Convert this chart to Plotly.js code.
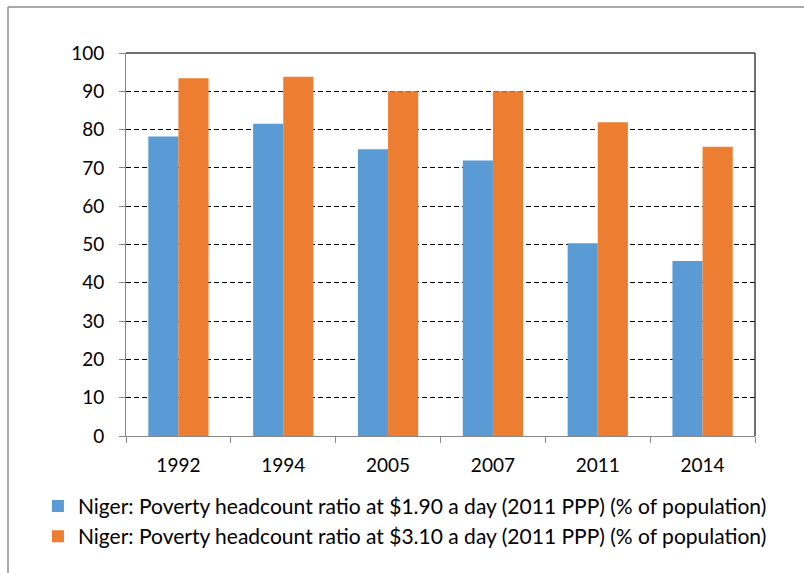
<!DOCTYPE html>
<html>
<head>
<meta charset="utf-8">
<script src="https://cdn.plot.ly/plotly-3.0.1.min.js"></script>
<style>
html, body { margin: 0; padding: 0; background: #fff; }
#chart { width: 804px; height: 573px; }
</style>
</head>
<body>
<div id="chart"></div>
<script>
const years = ['1992', '1994', '2005', '2007', '2011', '2014'];
const poverty190 = [78.2, 81.5, 74.9, 71.9, 50.3, 45.7];
const poverty310 = [93.4, 93.8, 90.0, 90.0, 81.9, 75.5];
const seriesNames = [
  'Niger: Poverty headcount ratio at $1.90 a day (2011 PPP) (% of population)',
  'Niger: Poverty headcount ratio at $3.10 a day (2011 PPP) (% of population)'
];
const colors = ['#5B9BD5', '#ED7D31'];

const FONT = 'Lato, "Open Sans", sans-serif';

const traces = [
  { type: 'bar', x: years, y: poverty190, name: seriesNames[0], marker: { color: colors[0] } },
  { type: 'bar', x: years, y: poverty310, name: seriesNames[1], marker: { color: colors[1] } }
];

const layout = {
  width: 804, height: 573,
  margin: { l: 126, r: 49, t: 53, b: 137 },
  paper_bgcolor: '#ffffff',
  plot_bgcolor: '#ffffff',
  barmode: 'group',
  bargap: 0.425,
  bargroupgap: 0,
  font: { family: FONT, size: 19, color: '#000' },
  showlegend: true,
  legend: {
    orientation: 'v',
    x: -0.14, xanchor: 'left',
    y: -0.13, yanchor: 'top',
    font: { family: FONT, size: 21, color: '#000' },
    itemwidth: 30,
    traceorder: 'normal',
    bgcolor: 'rgba(0,0,0,0)'
  },
  xaxis: {
    type: 'category',
    showline: true, linecolor: '#868686', linewidth: 1,
    ticks: 'outside', ticklen: 6, tickcolor: '#868686',
    tickson: 'boundaries',
    ticklabelstandoff: 12,
    showgrid: false,
    tickfont: { family: FONT, size: 19, color: '#000' }
  },
  yaxis: {
    range: [0, 100], dtick: 10, tick0: 0,
    showline: true, linecolor: '#868686', linewidth: 1,
    ticks: 'outside', ticklen: 6, tickcolor: '#868686',
    ticklabelstandoff: 11,
    showgrid: true, gridcolor: '#000', gridwidth: 1, griddash: '5px,3px',
    zeroline: false,
    tickfont: { family: FONT, size: 19, color: '#000' }
  },
  shapes: [
    { type: 'line', xref: 'paper', yref: 'paper', x0: 0, x1: 1, y0: 1, y1: 1, line: { color: '#404040', width: 1.5 } },
    { type: 'line', xref: 'paper', yref: 'paper', x0: 1, x1: 1, y0: 0, y1: 1, line: { color: '#404040', width: 1.5 } },
    { type: 'line', xref: 'paper', yref: 'paper', x0: -0.1876, x1: 1.2, y0: 1.12, y1: 1.12, line: { color: '#8c8c8c', width: 1.5 } },
    { type: 'line', xref: 'paper', yref: 'paper', x0: -0.1876, x1: -0.1876, y0: -0.4, y1: 1.12, line: { color: '#8c8c8c', width: 1.5 } }
  ]
};

Plotly.newPlot('chart', traces, layout, { displayModeBar: false, staticPlot: true });
</script>
</body>
</html>
